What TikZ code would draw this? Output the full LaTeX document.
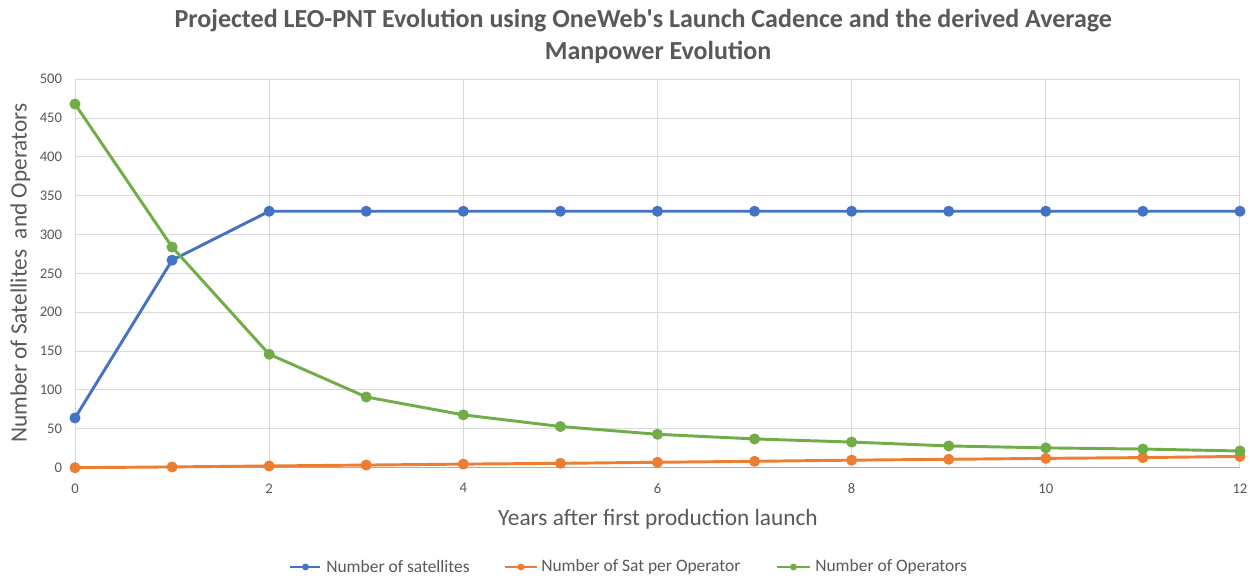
\documentclass[tikz,border=0pt]{standalone}
\usepackage{fontspec}
\setmainfont{Carlito}
\usetikzlibrary{positioning}
\definecolor{sat-blue}{HTML}{4472C4}
\definecolor{ratio-orange}{HTML}{ED7D31}
\definecolor{ops-green}{HTML}{70AD47}
\definecolor{label-gray}{HTML}{595959}
\definecolor{grid-gray}{HTML}{D9D9D9}
\tikzset{
    grid-line/.style = {draw=grid-gray, line width=0.75pt},
    axis-line/.style = {draw=grid-gray!80!black, line width=0.75pt},
    series-line/.style = {line width=2.2pt, line join=round, mark=*, mark size=3pt},
    tick-label/.style = {text=label-gray, font=\fontsize{11}{13}\selectfont, inner sep=0pt},
    axis-title/.style = {text=label-gray, font=\fontsize{17.5}{20}\selectfont, inner sep=0pt},
    chart-title/.style = {text=label-gray, font=\bfseries\fontsize{19.5}{24}\selectfont, align=center, inner sep=0pt},
    legend-text/.style = {text=label-gray, font=\fontsize{13.1}{15}\selectfont, anchor=west, inner sep=0pt},
    legend-line/.style = {line width=2.2pt},
}

\begin{document}
\begin{tikzpicture}[x=0.75pt,y=0.75pt]
\useasboundingbox[fill=white] (0,0) rectangle (1258,578);
\coordinate (origin) at (75,110.3);

\begin{scope}[shift={(origin)}, x=72.81pt, y=0.5828pt]
% grid
\foreach \v in {50,100,...,500} \draw[grid-line] (0,\v) -- (12,\v);
\foreach \t in {2,4,...,12} \draw[grid-line] (\t,0) -- (\t,500);
\draw[grid-line] (0,0) -- (0,500);
\draw[axis-line] (0,0) -- (12,0);
\foreach \v in {0,50,...,500} \node[tick-label, anchor=east] at (-0.13,\v) {\v};
\foreach \t in {0,2,...,12} \node[tick-label, anchor=north] at (\t,-20) {\t};
% series
\draw[series-line, sat-blue] plot coordinates {(0,64) (1,267) (2,330) (3,330) (4,330) (5,330) (6,330) (7,330) (8,330) (9,330) (10,330) (11,330) (12,330)};
\draw[series-line, ratio-orange] plot coordinates {(0,0) (1,1) (2,2.2) (3,3.4) (4,4.6) (5,5.6) (6,7) (7,8.2) (8,9.7) (9,10.8) (10,12) (11,13) (12,14.5)};
\draw[series-line, ops-green] plot coordinates {(0,468) (1,284) (2,146) (3,91) (4,68) (5,53) (6,43) (7,37) (8,33) (9,28) (10,25.5) (11,24) (12,21.5)};
\end{scope}

% titles
\node[chart-title] (title) at (658,542) {Projected LEO-PNT Evolution using OneWeb\textquotesingle s Launch Cadence and the derived Average\hspace*{22pt}\\Manpower Evolution};
\node[axis-title, rotate=90] (y-title) at (20.5,305) {Number of Satellites\ \ and Operators};
\node[axis-title] (x-title) at (658,58.5) {Years after first production launch};

% legend
\node[legend-text] (leg-sat) at (326,11) {Number of satellites};
\node[legend-text] (leg-ratio) at (541,11) {Number of Sat per Operator};
\node[legend-text] (leg-ops) at (815,11) {Number of Operators};
\coordinate (leg-sat-start) at (290,11);
\coordinate (leg-ratio-start) at (505,11);
\coordinate (leg-ops-start) at (777,11);
\draw[legend-line, sat-blue] (leg-sat-start) -- ([xshift=-4.5pt]leg-sat.west);
\draw[legend-line, ratio-orange] (leg-ratio-start) -- ([xshift=-3pt]leg-ratio.west);
\draw[legend-line, ops-green] (leg-ops-start) -- ([xshift=-3.5pt]leg-ops.west);
\fill[sat-blue] (305.5,11) circle (2.6pt);
\fill[ratio-orange] (521,11) circle (2.6pt);
\fill[ops-green] (793.5,11) circle (2.6pt);
\end{tikzpicture}
\end{document}
